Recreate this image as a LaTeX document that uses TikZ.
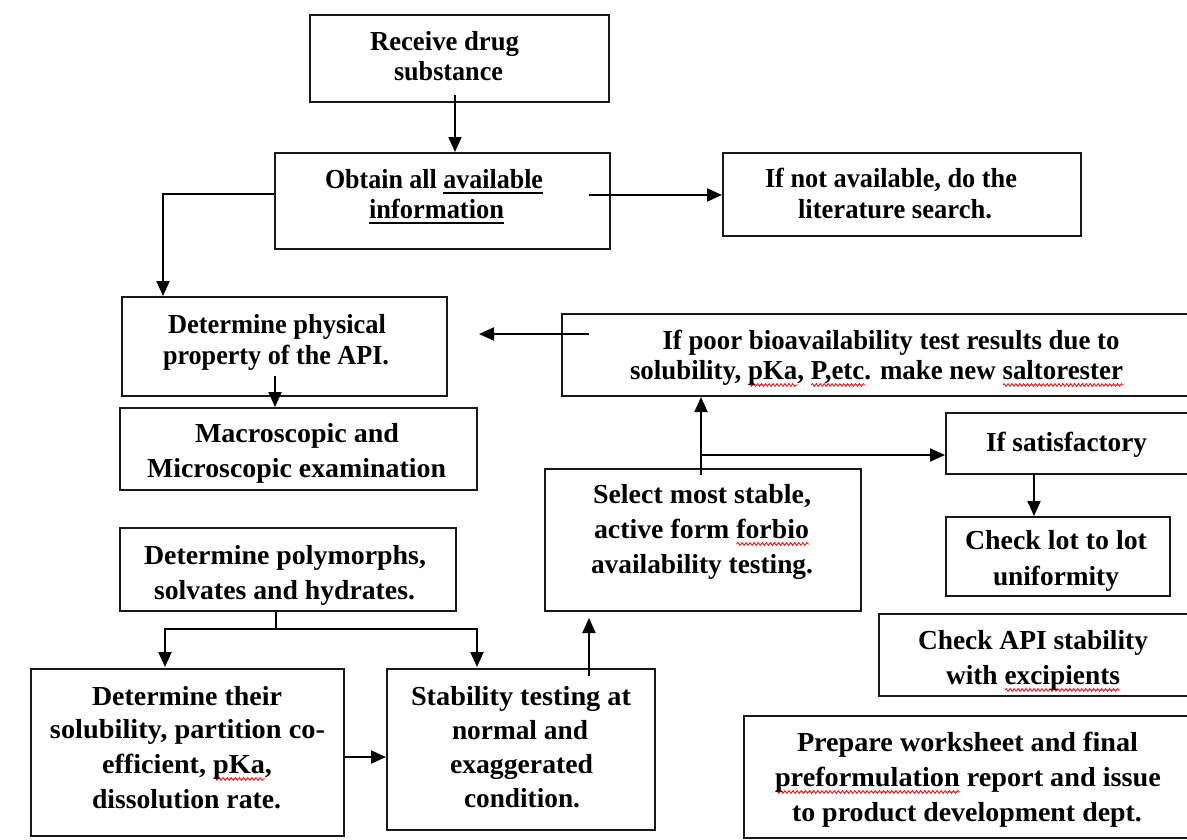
\documentclass[tikz,border=0pt]{standalone}
\usepackage{fontspec}
\setmainfont{Liberation Serif}
\usepackage{graphicx}
\usetikzlibrary{arrows.meta,calc,fit,decorations.pathmorphing}
\newsavebox\ulbox
\newsavebox\sqbox
\newcommand\ul[1]{\sbox\ulbox{#1}\rlap{\vrule width\wd\ulbox height-4pt depth6pt}\usebox\ulbox}
\newcommand\sq[1]{\sbox\sqbox{#1}\rlap{\tikz[baseline=0pt]\draw[red,line width=0.8pt,decorate,decoration={snake,segment length=4pt,amplitude=1.4pt}] (0pt,-6pt) -- (\the\wd\sqbox,-6pt);}\usebox\sqbox}
\newsavebox\fitbox
\newcommand\fw[2]{\sbox\fitbox{#2}\pgfmathsetmacro\fwx{#1/\the\wd\fitbox}\scalebox{\fwx}[1]{\usebox\fitbox}}
\newcommand\tl[5]{\node[txt] (#1) at (#2,#3) {\fw{#4}{#5}};}
\tikzset{
  bx/.style={draw=black!90, line width=2pt, inner sep=0pt},
  txt/.style={anchor=base, inner sep=0pt, font=\bfseries\fontsize{27.5}{32}\selectfont},
  arr/.style={line width=2pt, -{Triangle[length=15pt,width=13pt]}},
  ln/.style={line width=2pt}
}
\begin{document}
\begin{tikzpicture}[x=1pt,y=-1pt]
\useasboundingbox (0,0) rectangle (1187,839);
\fill[white] (0,0) rectangle (1187,839);
\clip (0,0) rectangle (1187,839);
% boxes
\node[bx, fit={(310,15) (609,102)}] (recv) {};
\node[bx, fit={(275,153) (610,249)}] (obtain) {};
\node[bx, fit={(723,153) (1081,236)}] (notavail) {};
\node[bx, fit={(122,297) (447,396)}] (phys) {};
\node[bx, fit={(562,314) (1200,396)}] (poor) {};
\node[bx, fit={(120,408) (477,490)}] (macro) {};
\node[bx, fit={(946,413) (1200,474)}] (satis) {};
\node[bx, fit={(545,469) (861,611)}] (select) {};
\node[bx, fit={(946,517) (1170,596)}] (lot) {};
\node[bx, fit={(120,528) (456,611)}] (poly) {};
\node[bx, fit={(879,614) (1200,696)}] (api) {};
\node[bx, fit={(31,669) (344,836)}] (solub) {};
\node[bx, fit={(387,669) (655,830)}] (stab) {};
\node[bx, fit={(744,716) (1200,838)}] (prep) {};
% texts
\tl{t1}{444.5}{50}{149}{Receive drug}
\tl{t2}{448.5}{80}{109}{substance}
\tl{t3}{434}{188}{218}{Obtain all \ul{available}}
\tl{t4}{436.5}{218}{135}{\ul{information}}
\tl{t5}{891}{187}{252}{If not available, do the}
\tl{t6}{895}{218}{194}{literature search.}
\tl{t7}{277}{333}{218}{Determine physical}
\tl{t8}{276}{364}{226}{property of the API.}
\tl{t9}{891}{349}{457}{If poor bioavailability test results due to}
\tl{t10}{876.5}{379}{493}{solubility, \sq{pKa}, \sq{P,etc}. make new \sq{saltorester}}
\tl{t11}{297}{442}{204}{Macroscopic and}
\tl{t12}{296.5}{477}{299}{Microscopic examination}
\tl{t13}{1066.5}{451}{161}{If satisfactory}
\tl{t14}{702}{503}{218}{Select most stable,}
\tl{t15}{701.5}{538}{215}{active form \sq{forbio}}
\tl{t16}{702}{573}{222}{availability testing.}
\tl{t17}{1056}{549}{182}{Check lot to lot}
\tl{t18}{1056}{585}{126}{uniformity}
\tl{t19}{285}{564}{282}{Determine polymorphs,}
\tl{t20}{284.5}{599}{261}{solvates and hydrates.}
\tl{t21}{1033}{649}{230}{Check API stability}
\tl{t22}{1033}{684}{174}{with \sq{excipients}}
\tl{t23}{187}{705}{190}{Determine their}
\tl{t24}{187.5}{738}{275}{solubility, partition co-}
\tl{t25}{187}{773}{170}{efficient, \sq{pKa},}
\tl{t26}{186.5}{808}{189}{dissolution rate.}
\tl{t27}{521}{705}{220}{Stability testing at}
\tl{t28}{520}{739}{136}{normal and}
\tl{t29}{521.5}{773}{143}{exaggerated}
\tl{t30}{522}{807}{116}{condition.}
\tl{t31}{967.5}{751}{341}{Prepare worksheet and final}
\tl{t32}{968}{786}{386}{\sq{preformulation} report and issue}
\tl{t33}{967}{821}{350}{to product development dept.}
% connector points
\coordinate (a1) at ($(recv.south)+(-4.5,-8)$);
\coordinate (b1) at ($(obtain.west)+(0,-7)$);
\coordinate (b2) at ($(phys.north west)+(42,0)$);
\coordinate (c1) at ($(obtain.east)+(-22,-6)$);
\coordinate (d1) at ($(poor.west)+(28,-21)$);
\coordinate (d2) at ($(phys.east |- d1)+(31,0)$);
\coordinate (e1) at ($(phys.south)+(-9.5,-21)$);
\coordinate (f1) at ($(select.north)+(-2,7)$);
\coordinate (g1) at ($(f1 |- satis.west)+(0,11.5)$);
\coordinate (h1) at ($(satis.south west)+(89,0)$);
\coordinate (i0) at ($(poly.south)+(-12,0)$);
\coordinate (i1) at ($(poly.south)+(-12,17)$);
\coordinate (i2) at ($(solub.north)+(-22.5,-1)$);
\coordinate (i3) at ($(stab.north)+(-44,-1)$);
\coordinate (j1) at ($(solub.east)+(0,4.5)$);
\coordinate (k1) at ($(stab.north)+(68,8)$);
\coordinate (k2) at ($(k1 |- select.south)+(0,6)$);
% connectors
\draw[arr] (a1) -- (a1 |- obtain.north);
\draw[arr] (b1) -| (b2);
\draw[arr] (c1) -- (c1 -| notavail.west);
\draw[arr] (d1) -- (d2);
\draw[arr] (e1) -- (e1 |- macro.north);
\draw[arr] (f1) -- (f1 |- poor.south);
\draw[arr] (g1) -- (g1 -| satis.west);
\draw[arr] (h1) -- (h1 |- lot.north);
\draw[ln] (i0) -- (i1);
\draw[arr] (i1) -| (i2);
\draw[arr] (i1) -| (i3);
\draw[arr] (j1) -- (j1 -| stab.west);
\draw[arr] (k1) -- (k2);
\end{tikzpicture}
\end{document}
